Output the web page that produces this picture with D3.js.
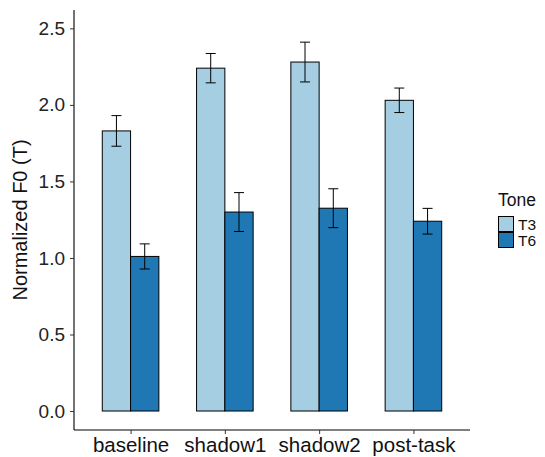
<!DOCTYPE html>
<html>
<head>
<meta charset="utf-8">
<script src="https://cdn.jsdelivr.net/npm/d3@7"></script>
<style>
  body { margin: 0; background: #fff; }
  text { font-family: "Liberation Sans", Arial, sans-serif; }
</style>
</head>
<body>
<svg id="chart" width="545" height="457"></svg>
<script>
var conditions = ["baseline", "shadow1", "shadow2", "post-task"];
var tones = ["T3", "T6"];
var t3Means = [1.83, 2.24, 2.28, 2.03];
var t3Se = [0.10, 0.096, 0.13, 0.08];
var t6Means = [1.01, 1.30, 1.325, 1.24];
var t6Se = [0.082, 0.127, 0.127, 0.084];
var yTicks = [0, 0.5, 1.0, 1.5, 2.0, 2.5];
var toneColors = ["#a6cee3", "#1f78b4"];

var data = [];
conditions.forEach(function (c, i) {
  data.push({ cond: c, tone: "T3", mean: t3Means[i], se: t3Se[i] });
  data.push({ cond: c, tone: "T6", mean: t6Means[i], se: t6Se[i] });
});

var svg = d3.select("#chart");
var pLeft = 74, pRight = 470, pTop = 10, pBottom = 430;

// ggplot-like discrete axis: 0.6 expansion on each side
var step = (pRight - pLeft) / 4.2;
var x = d3.scalePoint().domain(conditions)
    .range([pLeft + 0.6 * step, pRight - 0.6 * step]);
var xTone = d3.scaleBand().domain(tones).range([-0.3 * step, 0.3 * step]);
var y = d3.scaleLinear().domain([-0.124, 2.62]).range([pBottom, pTop]);
var color = d3.scaleOrdinal().domain(tones).range(toneColors);

var barX = function (d) { return x(d.cond) + xTone(d.tone); };
var midX = function (d) { return barX(d) + xTone.bandwidth() / 2; };

// bars
svg.selectAll("rect.bar").data(data).enter().append("rect")
    .attr("class", "bar")
    .attr("x", barX)
    .attr("y", function (d) { return y(d.mean); })
    .attr("width", xTone.bandwidth())
    .attr("height", function (d) { return y(0) - y(d.mean); })
    .attr("fill", function (d) { return color(d.tone); })
    .attr("stroke", "#000")
    .attr("stroke-width", 1);

// error bars
var cap = 5;
var eb = svg.selectAll("g.err").data(data).enter().append("g")
    .attr("class", "err")
    .attr("stroke", "#000")
    .attr("stroke-width", 1);
eb.append("line")
    .attr("x1", midX).attr("x2", midX)
    .attr("y1", function (d) { return y(d.mean + d.se); })
    .attr("y2", function (d) { return y(d.mean - d.se); });
[1, -1].forEach(function (s) {
  eb.append("line")
      .attr("x1", function (d) { return midX(d) - cap; })
      .attr("x2", function (d) { return midX(d) + cap; })
      .attr("y1", function (d) { return y(d.mean + s * d.se); })
      .attr("y2", function (d) { return y(d.mean + s * d.se); });
});

// y axis
var yAxis = svg.append("g").attr("transform", "translate(" + pLeft + ",0)")
    .call(d3.axisLeft(y).tickValues(yTicks).tickFormat(d3.format(".1f")).tickSizeOuter(0).tickSize(4).tickPadding(5));
yAxis.select(".domain").attr("d", "M0," + pTop + "V" + pBottom).attr("stroke", "#000").attr("stroke-width", 1.1);
yAxis.selectAll(".tick line").attr("stroke", "#333");
yAxis.selectAll(".tick text").attr("font-size", 19).attr("fill", "#222")
    .style("font-family", "'Liberation Sans', Arial, sans-serif");

// x axis
var xAxis = svg.append("g").attr("transform", "translate(0," + pBottom + ")")
    .call(d3.axisBottom(x).tickSizeOuter(0).tickSize(4).tickPadding(3));
xAxis.select(".domain").attr("d", "M" + pLeft + ",0H" + pRight).attr("stroke", "#000").attr("stroke-width", 1.1);
xAxis.selectAll(".tick line").attr("stroke", "#333");
xAxis.selectAll(".tick text").attr("font-size", 20.5).attr("fill", "#111")
    .style("font-family", "'Liberation Sans', Arial, sans-serif");

// y label
svg.append("text")
    .attr("transform", "translate(27,220) rotate(-90)")
    .attr("text-anchor", "middle")
    .attr("font-size", 20)
    .attr("fill", "#111")
    .text("Normalized F0 (T)");

// legend
var legend = svg.append("g").attr("transform", "translate(498,0)");
legend.append("text").attr("x", 0).attr("y", 206).attr("font-size", 17.5).attr("fill", "#111").text("Tone");
tones.forEach(function (t, i) {
  legend.append("rect")
      .attr("x", 0.5).attr("y", 216.5 + i * 16)
      .attr("width", 15).attr("height", 15)
      .attr("fill", color(t)).attr("stroke", "#000").attr("stroke-width", 1);
  legend.append("text")
      .attr("x", 20).attr("y", 230 + i * 16)
      .attr("font-size", 15.5).attr("fill", "#111").text(t);
});
</script>
</body>
</html>
